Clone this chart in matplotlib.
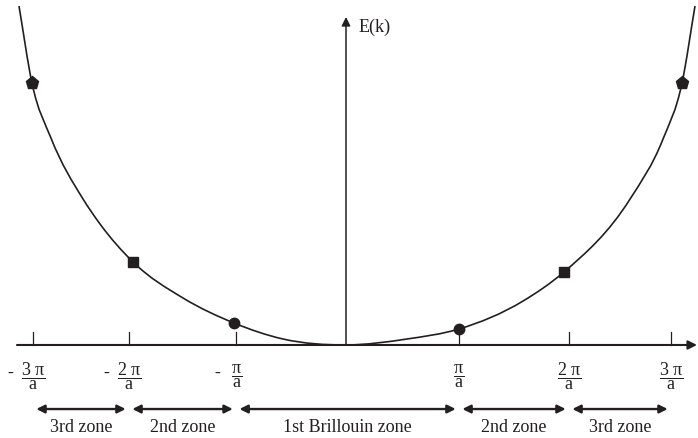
# E(k) free electron parabola with Brillouin zones

# Import
import matplotlib
matplotlib.use("Agg")
import matplotlib.pyplot as plt
from matplotlib.path import Path
from matplotlib.patches import PathPatch

# Data (k in units of pi/a, E in the same drawing units)
curve_k = [-2.946, -2.829, -2.658, -2.369, -2.216, -1.919, -1.468, -1.009, -0.568,
           0.0, 0.550, 1.018, 1.595, 1.964, 2.559, 2.856, 3.027, 3.144]
curve_E = [3.054, 2.360, 1.865, 1.315, 1.090, 0.748, 0.423, 0.198, 0.054,
           0.0, 0.054, 0.144, 0.396, 0.658, 1.315, 1.856, 2.360, 3.054]

circle_k = [-1.009, 1.018]
circle_E = [0.198, 0.144]
square_k = [-1.919, 1.964]
square_E = [0.748, 0.658]
pent_k = [-2.829, 3.027]
pent_E = [2.360, 2.360]

tick_k = [-2.82, -1.955, -0.99, 1.018, 2.009, 2.928]
tick_mult = ["3", "2", "", "", "2", "3"]
tick_neg = [True, True, True, False, False, False]

zone_names = ["3rd zone", "2nd zone", "1st Brillouin zone", "2nd zone", "3rd zone"]
zone_edges = [(-2.82, -1.955), (-1.955, -0.99), (-0.99, 1.018), (1.018, 2.009), (2.009, 2.928)]

# Style
ink = "#231f20"
plt.rcParams["font.family"] = ["Liberation Serif", "DejaVu Serif"]
plt.rcParams["mathtext.fontset"] = "custom"
plt.rcParams["mathtext.rm"] = "Liberation Serif"
plt.rcParams["mathtext.it"] = "Liberation Serif"
fs = 13

fig = plt.figure(figsize=(6.98, 4.39), dpi=100)
ax = fig.add_axes([0, 0, 1, 1])
ax.set_xlim(-3.117, 3.171)
ax.set_ylim(-0.838, 3.117)
ax.axis("off")

# Axes with arrows
ax.annotate("", xy=(3.162, 0), xytext=(-2.964, 0),
            arrowprops=dict(arrowstyle="-|>", lw=1.5, color=ink, mutation_scale=13,
                            shrinkA=0, shrinkB=0))
ax.annotate("", xy=(0, 2.955), xytext=(0, 0),
            arrowprops=dict(arrowstyle="-|>", lw=1.1, color=ink, mutation_scale=13,
                            shrinkA=0, shrinkB=0))
ax.text(0.11, 2.87, "E(k)", fontsize=fs, color=ink, ha="left", va="center")

# Smooth curve through the read points (cubic Hermite segments drawn as Bezier)
n = len(curve_k)
h = [curve_k[i + 1] - curve_k[i] for i in range(n - 1)]
s = [(curve_E[i + 1] - curve_E[i]) / h[i] for i in range(n - 1)]
d = [s[0]] + [(h[i - 1] * s[i] + h[i] * s[i - 1]) / (h[i - 1] + h[i]) for i in range(1, n - 1)] + [s[-1]]
verts = [(curve_k[0], curve_E[0])]
codes = [Path.MOVETO]
for i in range(n - 1):
    verts += [(curve_k[i] + h[i] / 3, curve_E[i] + d[i] * h[i] / 3),
              (curve_k[i + 1] - h[i] / 3, curve_E[i + 1] - d[i + 1] * h[i] / 3),
              (curve_k[i + 1], curve_E[i + 1])]
    codes += [Path.CURVE4] * 3
ax.add_patch(PathPatch(Path(verts, codes), fill=False, edgecolor=ink, lw=1.2, zorder=3))

# Markers
ax.plot(circle_k, circle_E, "o", color=ink, ms=7.5, zorder=4)
ax.plot(square_k, square_E, "s", color=ink, ms=6.5, zorder=4)
ax.plot(pent_k, pent_E, "p", color=ink, ms=9.5, zorder=4)

# Ticks and fraction labels
tick_h = 0.117
for k, mult, neg in zip(tick_k, tick_mult, tick_neg):
    ax.plot([k, k], [0, tick_h], color=ink, lw=0.9)
    num = mult + r"\ \mathrm{π}" if mult else r"\mathrm{π}"
    ax.text(k, -0.27, r"$\dfrac{" + num + r"}{\mathrm{a}}$", fontsize=fs, color=ink,
            ha="center", va="center")
    if neg:
        ax.text(k - (0.2 if mult else 0.17), -0.285, "-", fontsize=fs,
                color=ink, ha="center", va="baseline")

# Zone arrows
gap = 0.03
for name, (a, b) in zip(zone_names, zone_edges):
    ax.annotate("", xy=(b - gap, -0.577), xytext=(a + gap, -0.577),
                arrowprops=dict(arrowstyle="<|-|>", lw=1.7, color=ink, mutation_scale=12,
                                shrinkA=0, shrinkB=0))
    ax.text((a + b) / 2, -0.73, name, fontsize=fs, color=ink, ha="center", va="center")

fig.savefig("out.png", dpi=100)
